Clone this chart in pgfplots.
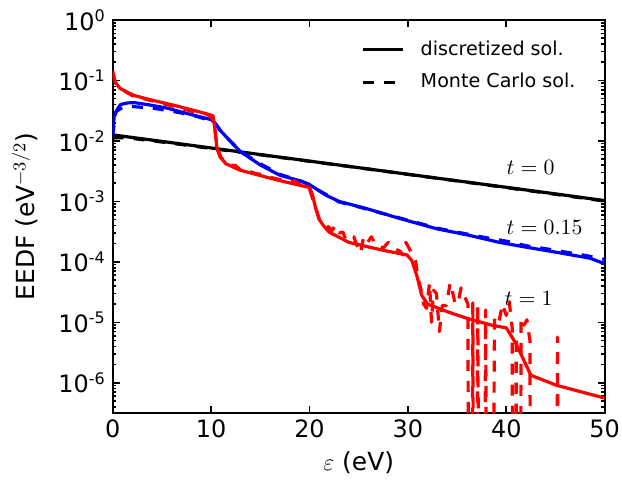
\documentclass[border=0pt]{standalone}
\usepackage[no-math]{fontspec}
\setmainfont{DejaVu Sans}
\usepackage{pgfplots}
\pgfplotsset{compat=1.18}

\begin{document}
\begin{tikzpicture}
\begin{axis}[
  scale only axis,
  width=246bp, height=196.5bp,
  xmin=0, xmax=50,
  ymode=log, ymin=3.1623e-7, ymax=1,
  xtick={0,10,20,30,40,50},
  xticklabels={0,10,20,30,40,50},
  ytick={1e-6,1e-5,1e-4,1e-3,1e-2,1e-1,1},
  yticklabels={10\textsuperscript{-6},10\textsuperscript{-5},10\textsuperscript{-4},10\textsuperscript{-3},10\textsuperscript{-2},10\textsuperscript{-1},10\textsuperscript{0}},
  minor ytick={4e-7,5e-7,6e-7,7e-7,8e-7,9e-7,
    2e-6,3e-6,4e-6,5e-6,6e-6,7e-6,8e-6,9e-6,
    2e-5,3e-5,4e-5,5e-5,6e-5,7e-5,8e-5,9e-5,
    2e-4,3e-4,4e-4,5e-4,6e-4,7e-4,8e-4,9e-4,
    2e-3,3e-3,4e-3,5e-3,6e-3,7e-3,8e-3,9e-3,
    2e-2,3e-2,4e-2,5e-2,6e-2,7e-2,8e-2,9e-2,
    2e-1,3e-1,4e-1,5e-1,6e-1,7e-1,8e-1,9e-1},
  tick align=inside,
  major tick length=3.5bp,
  minor tick length=1.8bp,
  every tick/.style={black, line width=0.8bp},
  axis line style={line width=1bp},
  tick label style={font=\fontsize{12}{14}\selectfont},
  label style={font=\fontsize{12.5}{14}\selectfont},
  xlabel={$\varepsilon$ (eV)},
  ylabel={EEDF (eV$^{-3/2}$)},
  xlabel style={at={(axis description cs:0.5,0)}, anchor=center, yshift=-25bp},
  ylabel style={at={(axis description cs:0,0.5)}, anchor=center, yshift=44bp},
  legend style={draw=none, fill=none, at={(0.505,0.958)}, anchor=north west,
    font=\fontsize{9.6}{12}\selectfont, row sep=3.5bp, inner sep=0pt,
    /tikz/every odd column/.append style={column sep=6bp}},
  legend cell align=left,
  legend image code/.code={\draw[#1] (0bp,0bp) -- (20bp,0bp);},
  every axis plot/.append style={line width=1.6bp, line join=round},
  mcdash/.style={dash pattern=on 5.5bp off 5bp},
]
% t = 0, discretized
\addplot[black] coordinates {
(0,0.0126) (5,0.00982) (10,0.00765) (15,0.00595) (20,0.00464) (25,0.00361)
(30,0.00281) (35,0.00219) (40,0.00171) (45,0.00133) (50,0.00103)};
\addlegendentry{discretized sol.}
% t = 0, Monte Carlo
\addplot[black, mcdash] coordinates {
(0,0.0112) (1,0.0113) (2,0.0110) (3,0.0105) (5,0.0096) (8,0.0083) (10,0.0075)
(15,0.0059) (20,0.0046) (25,0.0036) (30,0.0028) (35,0.00218) (40,0.00169)
(45,0.00131) (50,0.00101)};
\addlegendentry{Monte Carlo sol.}
% t = 0.15, discretized
\addplot[blue] coordinates {
(0,0.014) (0.15,0.025) (0.4,0.032) (0.8,0.040) (1.5,0.0425) (2.2,0.043) (3.5,0.040)
(5.5,0.035) (7,0.030) (8.9,0.025) (10,0.0225) (10.5,0.019) (11,0.0145) (12,0.0097)
(13,0.0066) (15,0.0040) (17,0.0027) (19,0.0022) (20,0.0019) (20.7,0.0016)
(21.7,0.00126) (23,0.00100) (25.8,0.00076) (29.2,0.00052) (33,0.00035) (36,0.00028)
(39.3,0.00021) (42,0.000175) (45,0.000145) (48.5,0.000115) (50,0.000093)};
% t = 0.15, Monte Carlo
\addplot[blue, mcdash] coordinates {
(0,0.012) (0.3,0.030) (1,0.036) (2,0.037) (4,0.035) (6,0.031) (8,0.027) (10,0.0215)
(10.5,0.0185) (11,0.0142) (12,0.0098) (13,0.0067) (15,0.0042) (17,0.0028) (19,0.0022)
(20,0.0019) (21,0.0015) (22,0.00122) (23,0.00098) (25,0.00081) (27,0.00066)
(30,0.00049) (33,0.00036) (35,0.00031) (38,0.00025) (40,0.00022) (42,0.000185)
(44,0.000165) (46,0.000145) (48,0.000128) (50,0.000110)};
% t = 1, discretized
\addplot[red] coordinates {
(0,0.145) (0.1,0.12) (0.23,0.095) (0.74,0.074) (2.1,0.057) (3.8,0.048) (6.2,0.039)
(8.9,0.030) (9.9,0.027) (10.2,0.026) (10.35,0.018) (10.6,0.0075) (10.9,0.0055)
(11.5,0.0042) (12.9,0.0033) (14.9,0.0027) (17,0.0022) (19,0.00185) (20,0.0017)
(20.3,0.0013) (20.6,0.0008) (21.0,0.00050) (21.4,0.00040) (22,0.00031) (24,0.00021)
(27.5,0.000155) (29.9,0.00013) (30.4,0.000105) (30.9,0.00006) (31.4,0.000028)
(32,0.000020) (34,0.000015) (36.1,0.0000115) (38.6,0.0000089) (40,0.0000081)
(41,0.0000044) (42.5,0.00000133) (45.1,0.00000091) (49.6,0.00000058) (50,0.00000056)};
% t = 1, Monte Carlo
\addplot[red, mcdash] coordinates {
(0,0.13) (0.3,0.09) (1,0.07) (2,0.056) (4,0.046) (6,0.038) (8,0.031) (9.5,0.028)
(10,0.025) (10.3,0.020) (10.6,0.008) (11,0.0053) (11.5,0.0046) (12,0.0040)
(12.5,0.0039) (13,0.0033) (14,0.0031) (14.5,0.0029) (15,0.0028) (16,0.0025)
(17,0.0023) (18,0.0021) (18.5,0.0022) (19,0.0019) (19.5,0.0018) (20,0.0016)
(20.5,0.0009) (21.0,0.00050) (21.5,0.00042) (22.0,0.00037) (22.3,0.00033)
(22.6,0.00040) (23.0,0.00030) (23.4,0.00031) (23.7,0.00023) (24.1,0.00024)
(24.5,0.00026) (24.8,0.00019) (25.2,0.00014) (25.5,0.00026) (25.9,0.00021)
(26.3,0.00026) (26.7,0.00019) (27.1,0.00018) (27.5,0.00017) (28.0,0.00021)
(28.4,0.00019) (28.8,0.00016) (29.2,0.00015) (29.5,0.00013) (29.8,0.00021)
(30.1,0.00017) (30.5,0.00013) (30.8,0.00010) (31.0,0.000056) (31.3,0.000037)
(31.6,0.000020) (31.9,0.000017) (32.2,0.000045) (32.4,0.000010) (32.6,0.000034)
(32.9,0.000030) (33.2,0.000007) (33.5,0.000019) (33.9,0.000019) (34.3,0.000045)
(34.5,0.000034) (34.8,0.000020) (35.1,0.000021) (35.4,0.000037) (35.7,0.000028)
(36.1,0.000020) (36.35,1e-20) (36.6,0.000021) (36.85,1e-20) (37.1,0.000019)
(37.5,1e-20) (37.9,0.000016) (38.3,1e-20) (38.8,0.000011) (39.2,0.000009)
(39.6,0.000020) (40.0,0.000013) (40.3,0.000022) (40.6,0.000008) (40.8,1e-20)
(41.0,0.000006) (41.3,1e-20) (41.5,0.000012) (41.8,0.000009) (42.1,0.000011)
(42.4,0.000005) (42.7,1e-20) (45.0,1e-20) (45.2,0.0000057) (45.5,1e-20) (50,1e-20)};
\node[anchor=west, inner sep=0pt, font=\fontsize{10.5}{12}\selectfont] at (axis cs:40,3.7e-3) {$t=0$};
\node[anchor=west, inner sep=0pt, font=\fontsize{10.5}{12}\selectfont] at (axis cs:40,3.7e-4) {$t=0.15$};
\node[anchor=west, inner sep=0pt, font=\fontsize{10.5}{12}\selectfont] at (axis cs:39.8,2.5e-5) {$t=1$};
\end{axis}
\pgfresetboundingbox
\path[use as bounding box] ([shift={(-56.35bp,-34.5bp)}]current axis.south west) rectangle ++(311bp,241bp);
\end{tikzpicture}
\end{document}
